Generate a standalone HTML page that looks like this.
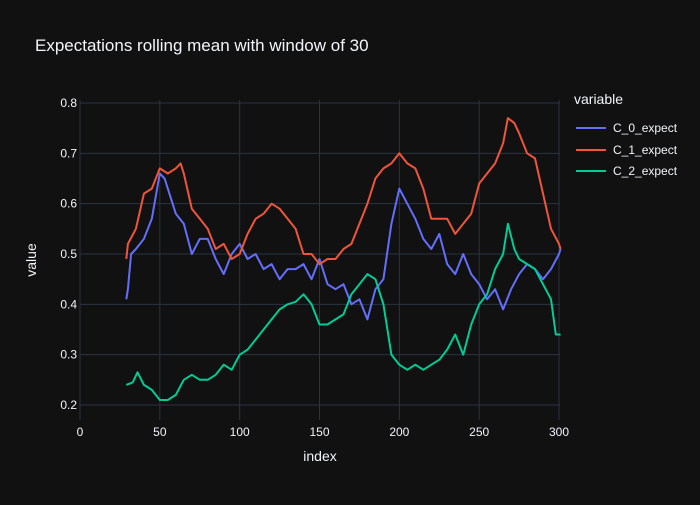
<!DOCTYPE html>
<html><head><meta charset="utf-8"><style>
body{margin:0;background:#111111;}
svg text{font-family:"Liberation Sans",sans-serif;fill:#f2f5fa;}
</style></head><body>
<svg id="chart" width="700" height="500">
<rect width="700" height="500" fill="#111111"/>
<text x="35" y="51" font-size="17">Expectations rolling mean with window of 30</text>
<g id="grid"></g><g id="series"></g><g id="axes"></g>
<text x="320" y="461" font-size="14" text-anchor="middle">index</text>
<text transform="translate(36,260) rotate(-90)" font-size="14" text-anchor="middle">value</text>
<g>
<text x="574" y="104" font-size="14">variable</text>
<g><line x1="576" y1="128" x2="606" y2="128" stroke="#636efa" stroke-width="2"/><text x="613" y="132" font-size="12">C_0_expect</text></g>
<g><line x1="576" y1="150" x2="606" y2="150" stroke="#ef553b" stroke-width="2"/><text x="613" y="154" font-size="12">C_1_expect</text></g>
<g><line x1="576" y1="171" x2="606" y2="171" stroke="#00cc96" stroke-width="2"/><text x="613" y="175" font-size="12">C_2_expect</text></g>
</g>
</svg>
<script>
const xTicks=[0,50,100,150,200,250,300];
const yTicks=[0.2,0.3,0.4,0.5,0.6,0.7,0.8];
const c0Idx=[29,30,32,35,40,45,50,53,55,60,65,70,75,80,85,90,95,100,105,110,115,120,125,130,135,140,145,150,155,160,165,170,175,180,185,190,195,200,205,210,215,220,225,230,235,240,245,250,255,260,265,270,275,280,285,290,295,300,301];
const c0Val=[0.41,0.43,0.50,0.51,0.53,0.57,0.66,0.65,0.63,0.58,0.56,0.50,0.53,0.53,0.49,0.46,0.50,0.52,0.49,0.50,0.47,0.48,0.45,0.47,0.47,0.48,0.45,0.49,0.44,0.43,0.44,0.40,0.41,0.37,0.43,0.45,0.56,0.63,0.60,0.57,0.53,0.51,0.54,0.48,0.46,0.50,0.46,0.44,0.41,0.43,0.39,0.43,0.46,0.48,0.47,0.45,0.47,0.50,0.51];
const c1Idx=[29,30,35,40,45,50,55,60,63,65,70,75,80,85,90,95,100,105,110,115,120,125,130,135,140,145,150,155,160,165,170,175,180,185,190,195,200,205,210,215,220,225,230,235,240,245,250,255,260,265,268,272,275,280,285,290,295,300,301];
const c1Val=[0.49,0.52,0.55,0.62,0.63,0.67,0.66,0.67,0.68,0.66,0.59,0.57,0.55,0.51,0.52,0.49,0.50,0.54,0.57,0.58,0.60,0.59,0.57,0.55,0.50,0.50,0.48,0.49,0.49,0.51,0.52,0.56,0.60,0.65,0.67,0.68,0.70,0.68,0.67,0.63,0.57,0.57,0.57,0.54,0.56,0.58,0.64,0.66,0.68,0.72,0.77,0.76,0.74,0.70,0.69,0.62,0.55,0.52,0.51];
const c2Idx=[29,33,36,40,45,50,55,60,65,70,75,80,85,90,95,100,105,110,115,120,125,130,135,140,145,150,155,160,165,170,175,180,185,190,195,200,205,210,215,220,225,230,235,240,245,250,255,260,265,268,272,275,280,285,290,295,298,301];
const c2Val=[0.24,0.245,0.265,0.24,0.23,0.21,0.21,0.22,0.25,0.26,0.25,0.25,0.26,0.28,0.27,0.30,0.31,0.33,0.35,0.37,0.39,0.40,0.405,0.42,0.40,0.36,0.36,0.37,0.38,0.42,0.44,0.46,0.45,0.40,0.30,0.28,0.27,0.28,0.27,0.28,0.29,0.31,0.34,0.30,0.36,0.40,0.42,0.47,0.50,0.56,0.51,0.49,0.48,0.47,0.44,0.41,0.34,0.34];
const NS='http://www.w3.org/2000/svg';
const X0=80,X1=559,Y0=405,Y1=103;
const xs=v=>X0+(v-0)/300*(X1-X0);
const ys=v=>Y0-(v-0.2)/0.6*(Y0-Y1);
function mk(t,a,p){const e=document.createElementNS(NS,t);for(const k in a)e.setAttribute(k,a[k]);p.appendChild(e);return e;}
const grid=document.getElementById('grid'),axes=document.getElementById('axes'),ser=document.getElementById('series');
mk('rect',{x:80,y:100,width:480,height:320,fill:'#111111'},grid);
xTicks.forEach(t=>{const l=mk('line',{x1:xs(t),x2:xs(t),y1:100,y2:420,stroke:'#283442','stroke-width':1},grid);


const tx=mk('text',{x:xs(t),y:436,'font-size':12,'text-anchor':'middle'},axes);tx.textContent=t;

});
yTicks.forEach(t=>{const l=mk('line',{x1:80,x2:560,y1:ys(t),y2:ys(t),stroke:'#283442','stroke-width':1},grid);


const tx=mk('text',{x:77,y:ys(t)+4,'font-size':12,'text-anchor':'end'},axes);tx.textContent=t.toFixed(1);

});
[[c0Idx,c0Val,'#636efa','line-c0-expect'],[c1Idx,c1Val,'#ef553b','line-c1-expect'],[c2Idx,c2Val,'#00cc96','line-c2-expect']].forEach(([ix,v,c,n])=>{
const p=mk('polyline',{points:ix.map((x,i)=>xs(x).toFixed(1)+','+ys(v[i]).toFixed(1)).join(' '),fill:'none',stroke:c,'stroke-width':2,'stroke-linejoin':'round'},ser);

});
</script>
</body></html>
